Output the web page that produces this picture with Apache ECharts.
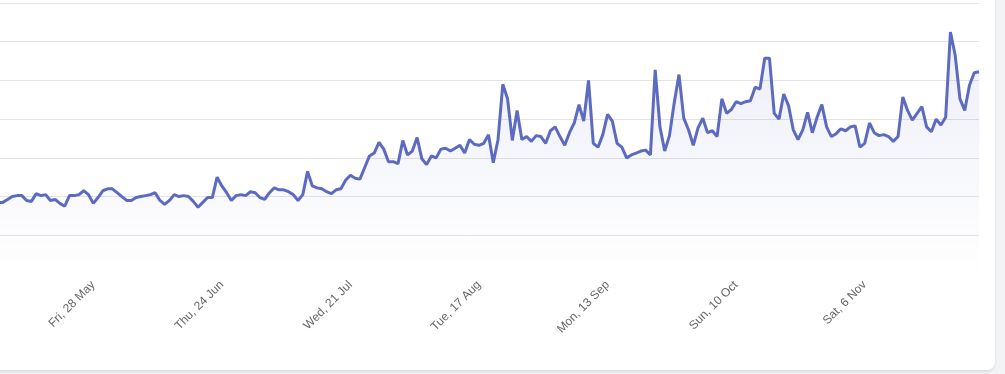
<!DOCTYPE html>
<html>
<head>
<meta charset="utf-8">
<script src="https://cdn.jsdelivr.net/npm/echarts@6/dist/echarts.min.js"></script>
<style>
  html, body { margin: 0; padding: 0; width: 1005px; height: 374px; overflow: hidden; background: #f3f4f6; }
  #card { position: absolute; left: -40px; top: -40px; width: 1035px; height: 410px; background: #ffffff; border-radius: 8px; box-shadow: 0 2px 3px rgba(0,0,0,0.10); }
  #chart { position: absolute; left: 0; top: 0; width: 1035px; height: 410px; }
</style>
</head>
<body>
<div id="card"><div id="chart"></div></div>
<script>
// Daily series, 1 May 2021 .. 30 Nov 2021
const startDate = [2021, 4, 1]; // year, month index (May), day
const dayCount = 214;
const weekdayNames = ['Sun', 'Mon', 'Tue', 'Wed', 'Thu', 'Fri', 'Sat'];
const monthNames = ['Jan', 'Feb', 'Mar', 'Apr', 'May', 'Jun', 'Jul', 'Aug', 'Sep', 'Oct', 'Nov', 'Dec'];

const values = [
  76, 75, 73, 74, 76, 75, 73, 74, 74, 77,
  80, 81, 81, 76, 75, 83, 81, 82, 76, 77,
  73, 70, 81, 81, 82, 86, 82, 73, 79, 86,
  88, 88, 84, 80, 76, 76, 79, 80, 81, 82,
  84, 76, 72, 76, 82, 80, 81, 80, 75, 69,
  74, 79, 79, 100, 91, 84, 76, 81, 82, 81,
  85, 84, 79, 77, 84, 89, 87, 87, 85, 82,
  76, 82, 106, 91, 89, 88, 85, 83, 87, 88,
  97, 102, 99, 98, 110, 122, 125, 136, 129, 116,
  116, 114, 138, 123, 127, 141, 119, 113, 122, 120,
  129, 130, 127, 130, 133, 125, 139, 134, 133, 135,
  144, 115, 139, 196, 181, 138, 169, 139, 142, 137,
  143, 142, 135, 148, 152, 142, 133, 146, 156, 175,
  158, 200, 135, 131, 144, 165, 158, 135, 131, 120,
  123, 125, 127, 128, 123, 211, 152, 127, 143, 177,
  206, 161, 149, 133, 151, 161, 146, 148, 142, 181,
  166, 170, 178, 176, 178, 179, 193, 191, 223, 223,
  166, 160, 186, 174, 149, 139, 149, 167, 146, 162,
  175, 152, 142, 145, 150, 148, 152, 153, 131, 135,
  156, 146, 143, 144, 142, 137, 142, 183, 169, 159,
  166, 173, 152, 147, 160, 154, 162, 250, 226, 181,
  169, 195, 208, 209
];

const yTicks = { min: 0, max: 280, interval: 40 };

const categories = [];
for (let i = 0; i < dayCount; i++) {
  const d = new Date(startDate[0], startDate[1], startDate[2] + i);
  categories.push(weekdayNames[d.getDay()] + ', ' + d.getDate() + ' ' + monthNames[d.getMonth()]);
}

const chart = echarts.init(document.getElementById('chart'), null, { renderer: 'canvas' });
chart.setOption({
  animation: false,
  grid: { left: 4.7, right: 16, top: 43, bottom: 96, containLabel: false, outerBoundsMode: 'none' },
  xAxis: {
    type: 'category',
    data: categories,
    boundaryGap: false,
    axisLine: { show: false },
    axisTick: { show: false },
    axisLabel: {
      interval: 26,
      rotate: 45,
      margin: 9,
      color: '#666666',
      fontSize: 12,
      fontFamily: 'Liberation Sans, Arial, sans-serif'
    },
    splitLine: { show: false }
  },
  yAxis: {
    type: 'value',
    min: yTicks.min,
    max: yTicks.max,
    interval: yTicks.interval,
    axisLabel: { show: false },
    axisLine: { show: false },
    axisTick: { show: false },
    splitLine: { show: true, showMinLine: false, lineStyle: { color: '#e3e3e3', width: 1 } }
  },
  series: [{
    type: 'line',
    data: values,
    showSymbol: false,
    symbol: 'none',
    lineStyle: { color: '#5c6bc0', width: 3 },
    itemStyle: { color: '#5c6bc0' },
    areaStyle: {
      color: new echarts.graphic.LinearGradient(0, 0, 0, 1, [
        { offset: 0, color: 'rgba(92,107,192,0.16)' },
        { offset: 1, color: 'rgba(92,107,192,0.0)' }
      ])
    }
  }]
});
</script>
</body>
</html>
